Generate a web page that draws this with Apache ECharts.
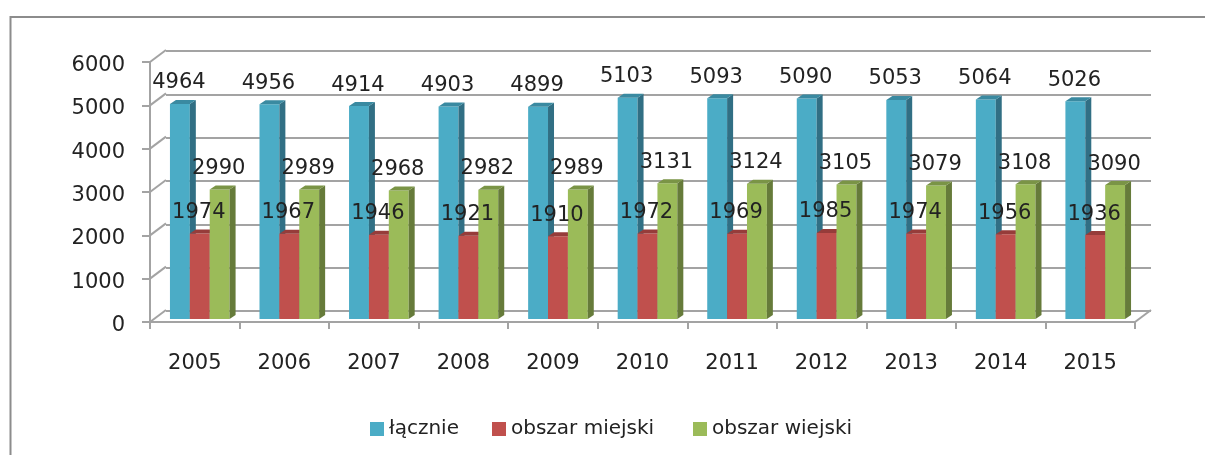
<!DOCTYPE html>
<html>
<head>
<meta charset="utf-8">
<style>
html, body { margin: 0; padding: 0; background: #fff; }
#main { width: 1205px; height: 455px; }
</style>
<script src="https://cdn.jsdelivr.net/npm/echarts@6/dist/echarts.min.js"></script>
</head>
<body>
<div id="main"></div>
<script>
var years = ['2005', '2006', '2007', '2008', '2009', '2010', '2011', '2012', '2013', '2014', '2015'];
var lacznie = [4964, 4956, 4914, 4903, 4899, 5103, 5093, 5090, 5053, 5064, 5026];
var miejski = [1974, 1967, 1946, 1921, 1910, 1972, 1969, 1985, 1974, 1956, 1936];
var wiejski = [2990, 2989, 2968, 2982, 2989, 3131, 3124, 3105, 3079, 3108, 3090];
var yTicks = [0, 1000, 2000, 3000, 4000, 5000, 6000];

var font = 'DejaVu Sans';
var textColor = '#222222';
var lineColor = '#a3a3a3';

// kolumna 3D: przod, bok, gora + etykieta
function bar3d(slot, front, side, top) {
    return function (params, api) {
        var i = api.value(0);
        var v = api.value(1);
        var p = api.coord([i, v]);
        var base = api.coord([i, 0]);
        var w = api.size([1, 0])[0] * 0.222;
        var x = p[0] + 5 + (slot - 1.5) * w;
        var yTop = p[1] - 3;
        var yBot = base[1] - 3;
        var dx = 6, dy = 4;
        return {
            type: 'group',
            children: [
                { type: 'rect', shape: { x: x, y: yTop, width: w, height: yBot - yTop }, style: { fill: front } },
                { type: 'polygon', shape: { points: [[x + w, yTop], [x + w + dx, yTop - dy], [x + w + dx, yBot - dy], [x + w, yBot]] }, style: { fill: side } },
                { type: 'polygon', shape: { points: [[x, yTop], [x + dx, yTop - dy], [x + w + dx, yTop - dy], [x + w, yTop]] }, style: { fill: top } },
                {
                    type: 'text', z2: 100,
                    style: {
                        x: x + w / 2 - 1, y: yTop - 21, text: String(v),
                        fill: textColor, font: '21px "' + font + '"', align: 'center', verticalAlign: 'middle'
                    }
                }
            ]
        };
    };
}

function pairs(arr) {
    return arr.map(function (v, i) { return [i, v]; });
}

// ukosne linie sciany bocznej i podlogi
function wallLines(params, api) {
    var p = api.coord([0, api.value(1)]);
    var x = params.coordSys.x;
    var lines = [{
        type: 'line',
        shape: { x1: x, y1: p[1], x2: x + 16, y2: p[1] - 12 },
        style: { stroke: lineColor, lineWidth: 2 }
    }];
    if (api.value(1) === 0) {
        var xr = x + params.coordSys.width;
        lines.push({
            type: 'line',
            shape: { x1: xr, y1: p[1], x2: xr + 16, y2: p[1] - 12 },
            style: { stroke: lineColor, lineWidth: 2 }
        });
    }
    return { type: 'group', children: lines };
}

function legendAt(name, left) {
    return {
        left: left, top: 419, padding: 0,
        itemWidth: 14, itemHeight: 14,
        icon: 'rect',
        data: [name],
        textStyle: { fontFamily: font, fontSize: 20, color: textColor }
    };
}

var myChart = echarts.init(document.getElementById('main'));
myChart.setOption({
    animation: false,
    backgroundColor: '#fff',
    graphic: [
        { type: 'polyline', shape: { points: [[10.5, 455], [10.5, 17], [1205, 17]] }, style: { fill: 'none', stroke: '#8c8c8c', lineWidth: 2 } }
    ],
    legend: [
        legendAt('łącznie', 370),
        legendAt('obszar miejski', 492),
        legendAt('obszar wiejski', 693)
    ],
    grid: [
        { left: 150, top: 62, width: 985, height: 260 },
        { left: 166, top: 51, width: 985, height: 260 }
    ],
    xAxis: [
        {
            type: 'category', data: years, gridIndex: 0,
            axisLine: { lineStyle: { color: lineColor, width: 2 } },
            axisTick: { show: true, length: 7, lineStyle: { color: lineColor, width: 2 } },
            axisLabel: { fontFamily: font, fontSize: 21, color: textColor, margin: 31, interval: 0 }
        },
        { type: 'category', data: years, gridIndex: 1, show: false }
    ],
    yAxis: [
        {
            type: 'value', min: 0, max: 6000, interval: 1000, gridIndex: 0,
            splitLine: { show: false },
            axisLine: { show: true, lineStyle: { color: lineColor, width: 2 } },
            axisTick: { show: true, length: 8, lineStyle: { color: lineColor, width: 2 } },
            axisLabel: {
                color: textColor, margin: 25,
                formatter: function (v) { return '{t|' + v + '}'; },
                rich: { t: { fontFamily: font, fontSize: 21, color: textColor, padding: [7, 0, 0, 0] } }
            }
        },
        {
            type: 'value', min: 0, max: 6000, interval: 1000, gridIndex: 1,
            axisLine: { show: false }, axisTick: { show: false }, axisLabel: { show: false },
            splitLine: { show: true, lineStyle: { color: lineColor, width: 2 } }
        }
    ],
    series: [
        { type: 'custom', name: 'wall', silent: true, renderItem: wallLines, data: yTicks.map(function (t) { return [0, t]; }), xAxisIndex: 0, yAxisIndex: 0 },
        { type: 'custom', name: 'łącznie', renderItem: bar3d(0, '#4bacc6', '#316f84', '#3a8aa1'), data: pairs(lacznie), itemStyle: { color: '#4bacc6' }, xAxisIndex: 0, yAxisIndex: 0 },
        { type: 'custom', name: 'obszar miejski', renderItem: bar3d(1, '#c0504d', '#7e3432', '#963c3a'), data: pairs(miejski), itemStyle: { color: '#c0504d' }, xAxisIndex: 0, yAxisIndex: 0 },
        { type: 'custom', name: 'obszar wiejski', renderItem: bar3d(2, '#9bbb59', '#667b3a', '#7a9446'), data: pairs(wiejski), itemStyle: { color: '#9bbb59' }, xAxisIndex: 0, yAxisIndex: 0 }
    ]
});
</script>
</body>
</html>
